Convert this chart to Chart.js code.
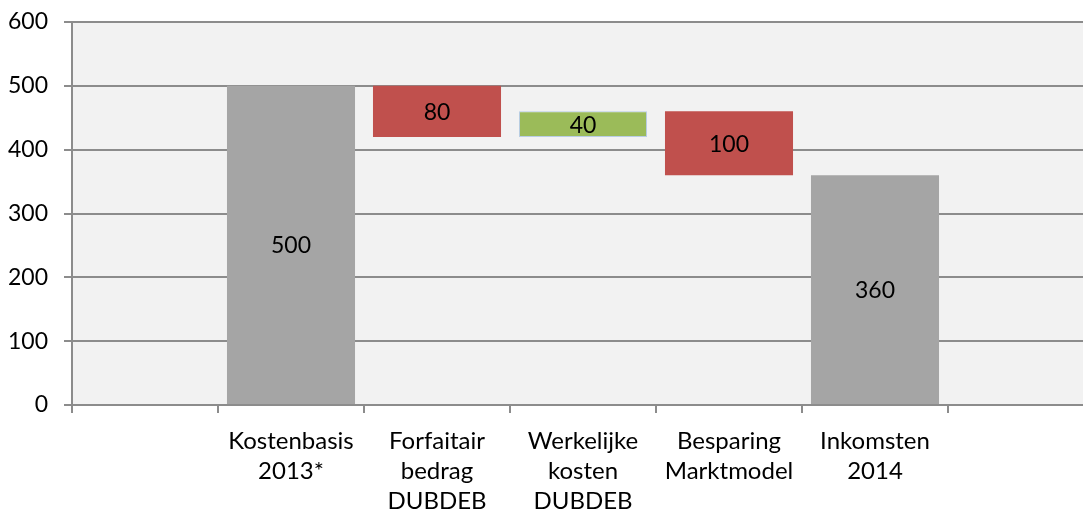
<!DOCTYPE html>
<html>
<head>
<meta charset="utf-8">
<script src="https://cdn.jsdelivr.net/npm/chart.js@4/dist/chart.umd.min.js"></script>
<style>
  html, body { margin: 0; padding: 0; background: #ffffff; overflow: hidden; width: 1083px; height: 513px; }
  #wrap { position: relative; width: 1100px; height: 513px; }
</style>
</head>
<body>
<div id="wrap"><canvas id="c"></canvas></div>
<script>
const categories = ["", ["Kostenbasis", "2013*"], ["Forfaitair", "bedrag", "DUBDEB"], ["Werkelijke", "kosten", "DUBDEB"], ["Besparing", "Marktmodel"], ["Inkomsten", "2014"], ""];
const bases   = [null, 0, 420, 420, 360, 0, null];
const amounts = [null, 500, 80, 40, 100, 360, null];
const kinds   = ["", "total", "decrease", "increase", "decrease", "total", ""];
const yTicks  = [0, 100, 200, 300, 400, 500, 600];

const kindColor = { total: "#a5a5a5", decrease: "#c0504d", increase: "#9bbb59" };
const kindBorder = { total: "#a5a5a5", decrease: "#c0504d", increase: "#b9cde5" };

const FONT = "Lato, 'Open Sans', sans-serif";
const GRID = "#8c8c8c";

const floating = bases.map((b, i) => b === null ? null : [b, b + amounts[i]]);

const bgPlugin = {
  id: "plotBg",
  beforeDraw(chart) {
    const { ctx, chartArea: a } = chart;
    ctx.save();
    ctx.fillStyle = "#f2f2f2";
    ctx.fillRect(a.left, a.top, a.right - a.left, a.bottom - a.top);
    ctx.restore();
  }
};

const labelPlugin = {
  id: "barLabels",
  afterDatasetsDraw(chart) {
    const { ctx } = chart;
    const meta = chart.getDatasetMeta(0);
    ctx.save();
    ctx.font = "23px " + FONT;
    ctx.fillStyle = "#000000";
    ctx.textAlign = "center";
    ctx.textBaseline = "middle";
    meta.data.forEach((el, i) => {
      if (amounts[i] === null) return;
      const p = el.getCenterPoint();
      ctx.fillText(String(amounts[i]), p.x, p.y + 1);
    });
    ctx.restore();
  }
};

new Chart(document.getElementById("c"), {
  type: "bar",
  data: {
    labels: categories,
    datasets: [{
      data: floating,
      backgroundColor: kinds.map(k => kindColor[k] || "transparent"),
      borderColor: kinds.map(k => kindBorder[k] || "transparent"),
      borderWidth: kinds.map(k => k === "increase" ? 1 : 0),
      borderSkipped: false,
      barPercentage: 0.877,
      categoryPercentage: 1.0
    }]
  },
  options: {
    responsive: true,
    maintainAspectRatio: false,
    animation: false,
    layout: { padding: { top: 22, right: 6, left: 0, bottom: 0 } },
    plugins: { legend: { display: false }, tooltip: { enabled: false } },
    scales: {
      x: {
        offset: true,
        grid: { display: true, drawOnChartArea: false, drawTicks: true, tickLength: 8, color: GRID, lineWidth: 2, offset: true },
        border: { display: true, color: GRID, width: 2 },
        ticks: { color: "#000000", font: { family: FONT, size: 24, lineHeight: 1.25 }, padding: 13, maxRotation: 0, autoSkip: false },
        afterFit(scale) { scale.height = 108; scale.paddingLeft = 0; scale.paddingRight = 0; }
      },
      y: {
        min: 0, max: 600,
        afterBuildTicks(scale) { scale.ticks = yTicks.map(v => ({ value: v })); },
        grid: { color: GRID, lineWidth: 2, drawTicks: true, tickLength: 8 },
        border: { display: true, color: GRID, width: 2 },
        ticks: { color: "#000000", font: { family: FONT, size: 23 }, padding: 16 },
        afterFit(scale) { scale.width = 72; scale.paddingTop = 0; scale.paddingBottom = 0; }
      }
    }
  },
  plugins: [bgPlugin, labelPlugin]
});
</script>
</body>
</html>
